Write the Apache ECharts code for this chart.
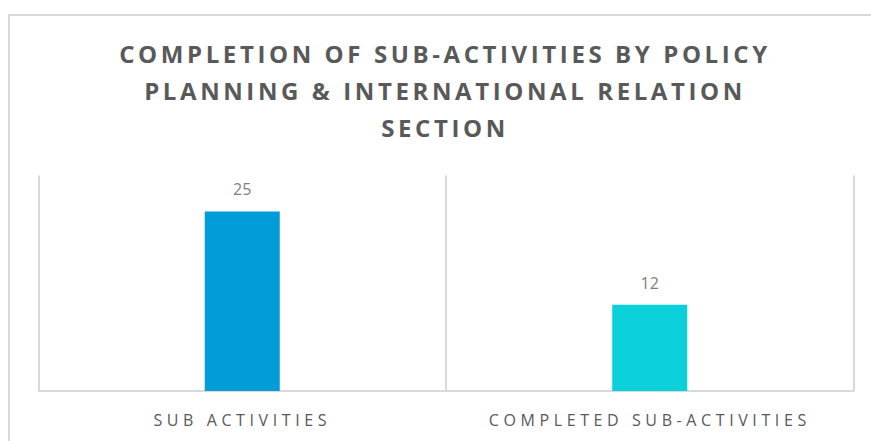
<!DOCTYPE html>
<html>
<head>
<meta charset="utf-8">
<script src="https://cdn.jsdelivr.net/npm/echarts@6/dist/echarts.min.js"></script>
<style>
  html, body { margin: 0; padding: 0; background: #fff; }
  #chart { width: 871px; height: 441px; }
</style>
</head>
<body>
<div id="chart"></div>
<script>
// 数据
const titleLines = ['COMPLETION OF SUB-ACTIVITIES BY POLICY', 'PLANNING & INTERNATIONAL RELATION', 'SECTION']
const categories = ['SUB ACTIVITIES', 'COMPLETED SUB-ACTIVITIES']
const values = [25, 12]
const barColors = ['#009DD9', '#0BD0D9']

const chart = echarts.init(document.getElementById('chart'), null, { renderer: 'svg' })

chart.setOption({
  animation: false,
  title: {
    text: titleLines.join('\n'),
    left: 440,
    textAlign: 'center',
    top: 30,
    textStyle: {
      fontFamily: 'Open Sans',
      fontWeight: 'bold',
      fontSize: 24,
      lineHeight: 37,
      color: '#595959'
    }
  },
  graphic: [
    {
      type: 'rect',
      shape: { x: 9, y: 15, width: 900, height: 500 },
      style: { fill: 'none', stroke: '#d9d9d9', lineWidth: 2 },
      silent: true
    }
  ],
  grid: {
    left: 38.5,
    right: 17.5,
    top: 175.5,
    bottom: 50
  },
  xAxis: {
    type: 'category',
    data: categories,
    axisLine: { lineStyle: { color: '#d9d9d9', width: 2 } },
    axisTick: { show: false },
    splitLine: { show: true, lineStyle: { color: '#d9d9d9', width: 2 } },
    axisLabel: {
      fontFamily: 'Open Sans',
      fontSize: 16,
      color: '#595959',
      margin: 21
    }
  },
  yAxis: {
    type: 'value',
    min: 0,
    max: 30,
    show: false
  },
  series: [
    {
      type: 'bar',
      barWidth: 75,
      data: values.map((v, i) => ({ value: v, itemStyle: { color: barColors[i] } })),
      label: {
        show: true,
        position: 'top',
        distance: 14,
        fontFamily: 'Open Sans',
        fontSize: 16,
        color: '#7f7f7f'
      }
    }
  ]
})

// 字间距（ECharts 无 letterSpacing，SVG 渲染后补上）
const spaceText = () => {
  chart.getDom().querySelectorAll('text').forEach(t => {
    const s = t.textContent
    if (titleLines.includes(s)) t.style.letterSpacing = '3.6px'
    else if (categories.includes(s)) t.style.letterSpacing = '4.6px'
  })
}
spaceText()
chart.on('finished', spaceText)
</script>
</body>
</html>
